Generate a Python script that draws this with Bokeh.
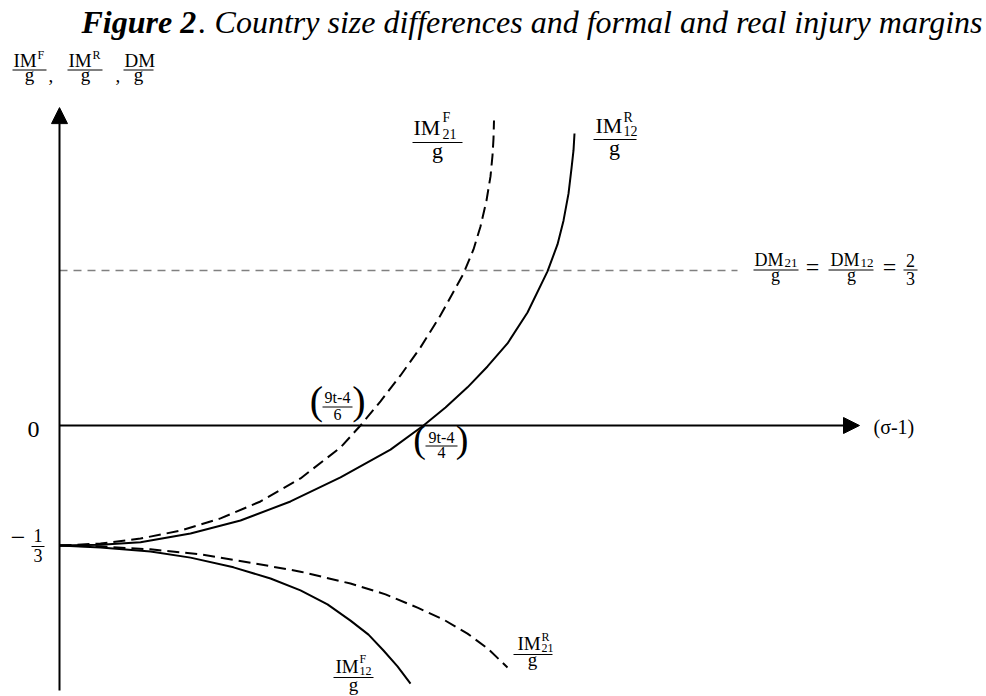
from bokeh.plotting import figure
from bokeh.models import Range1d, Arrow, NormalHead
from bokeh.core.properties import value
from bokeh.embed import file_html
from bokeh.resources import INLINE

W, H = 986, 696
FONT = "Liberation Serif"

# Injury-margin curves, in units of (sigma-1) along x and of g along y.
# All four start at -1/3 when (sigma-1) = 0.
im21_f_x = [0, 0.41, 0.81, 1.21, 1.61, 2.01, 2.41, 2.81, 3.01, 3.21, 3.41,
            3.61, 3.81, 4.04, 4.14, 4.21, 4.27, 4.31, 4.33, 4.34, 4.345]
im21_f_y = [-1 / 3, -0.328, -0.314, -0.292, -0.258, -0.211, -0.147, -0.061, 0.0,
            0.067, 0.139, 0.217, 0.306, 0.422, 0.489, 0.553, 0.625, 0.692,
            0.750, 0.797, 0.847]

im12_r_x = [0, 0.41, 0.81, 1.31, 1.81, 2.31, 2.81, 3.31, 3.64, 3.86, 4.08,
            4.28, 4.48, 4.68, 4.88, 4.98, 5.04, 5.09, 5.12, 5.14, 5.15]
im12_r_y = [-1 / 3, -0.331, -0.324, -0.300, -0.264, -0.211, -0.144, -0.067, 0.0,
            0.050, 0.106, 0.164, 0.228, 0.314, 0.428, 0.503, 0.569, 0.644,
            0.714, 0.764, 0.811]

im21_r_x = [0, 0.41, 0.91, 1.41, 1.91, 2.41, 2.91, 3.26, 3.58, 3.84, 4.08,
            4.28, 4.48]
im21_r_y = [-1 / 3, -0.336, -0.344, -0.358, -0.381, -0.406, -0.439, -0.469,
            -0.506, -0.539, -0.578, -0.619, -0.672]

im12_f_x = [0, 0.41, 0.91, 1.31, 1.74, 2.11, 2.41, 2.68, 2.91, 3.09, 3.24,
            3.38, 3.51]
im12_f_y = [-1 / 3, -0.339, -0.350, -0.367, -0.394, -0.425, -0.458, -0.497,
            -0.542, -0.581, -0.625, -0.669, -0.717]

# Domestic margin level (DM21/g = DM12/g) and the extent of its guide line
dm_level = 2 / 3
dm_x = [0, 6.78]

# Axis extents
x_axis_end = 8.0
y_axis_bottom = -0.736
y_axis_top = 0.883

p = figure(width=W, height=H, output_backend="svg", toolbar_location=None,
           x_range=Range1d(-0.59, 9.27), y_range=Range1d(-0.75278, 1.18056),
           x_axis_type=None, y_axis_type=None, min_border=0,
           outline_line_color=None, background_fill_color="white",
           border_fill_color="white")
p.grid.visible = False

# "page" ranges place the typeset labels; "dm" is the schematic (not to
# scale) vertical scale used for the DM level line.
p.extra_x_ranges = {"page": Range1d(0, W)}
p.extra_y_ranges = {"page": Range1d(H, 0), "dm": Range1d(-1.1656, 1.828)}

# Axes with arrow heads
p.add_layout(Arrow(end=NormalHead(size=16, fill_color="black", line_color="black"),
                   x_start=0, y_start=y_axis_bottom, x_end=0, y_end=y_axis_top,
                   line_width=2, line_color="black"))
p.add_layout(Arrow(end=NormalHead(size=16, fill_color="black", line_color="black"),
                   x_start=0, y_start=0, x_end=x_axis_end, y_end=0,
                   line_width=2, line_color="black"))

# DM level
p.line(dm_x, [dm_level, dm_level], y_range_name="dm", line_color="#808080",
       line_width=1.5, line_dash="8 6")

# Curves: formal margins dashed for 21 / solid for 12, real margins the reverse
p.line(im21_f_x, im21_f_y, line_color="black", line_width=2, line_dash="12 6",
       line_join="round")
p.line(im12_r_x, im12_r_y, line_color="black", line_width=2, line_join="round")
p.line(im21_r_x, im21_r_y, line_color="black", line_width=2, line_dash="12 6",
       line_join="round")
p.line(im12_f_x, im12_f_y, line_color="black", line_width=2, line_join="round")

# The text glyph's box sits a little below the requested alphabetic
# baseline; this lifts it back (as a fraction of the font size).
BASELINE_LIFT = 0.375


def put(x, y, s, size, align="left", style="normal"):
    p.text(x=[x], y=[y - BASELINE_LIFT * size], text=[s],
           x_range_name="page", y_range_name="page",
           text_font=value(FONT), text_font_size=value(f"{size}px"),
           text_font_style=value(style), text_align=value(align),
           text_baseline=value("alphabetic"), text_color="black")


def bar(x0, x1, y):
    p.segment(x0=[x0], y0=[y], x1=[x1], y1=[y], x_range_name="page",
              y_range_name="page", line_color="black", line_width=1)


# Title
put(81, 33, "Figure 2", 32, "left", "bold italic")
put(982, 33, ". Country size differences and formal and real injury margins",
    32, "right", "italic")

# Vertical axis caption: IM^F/g, IM^R/g, DM/g
put(13, 67, "IM", 19); put(37, 59, "F", 12); bar(12, 46, 69.5)
put(29, 81, "g", 19, "center"); put(48, 82, ",", 19)
put(68, 67, "IM", 19); put(92, 59, "R", 12); bar(67, 102, 69.5)
put(85, 81, "g", 19, "center"); put(115, 82, ",", 19)
put(124, 67, "DM", 19); bar(123, 153, 69.5)
put(138, 81, "g", 19, "center")

# Vertical axis values
put(33, 438, "0", 24, "center")
put(17.5, 546.5, "\u2212", 26, "center")
put(37.5, 542, "1", 18, "center"); bar(31, 44, 546)
put(37.5, 562, "3", 18, "center")

# Horizontal axis caption
put(873, 434, "(\u03c3-1)", 20)

# Curve labels
put(413, 135, "IM", 22); put(442, 122, "F", 14); put(442, 139, "21", 14)
bar(412, 462, 142); put(437, 158, "g", 22, "center")

put(595, 133, "IM", 22); put(623, 122, "R", 14); put(623, 136, "12", 14)
bar(593, 636, 139); put(614, 155, "g", 22, "center")

put(335, 673, "IM", 19); put(359, 663, "F", 12); put(359, 675, "12", 12)
bar(333, 373, 677); put(353, 691, "g", 19, "center")

put(517, 650, "IM", 19); put(541, 641, "R", 12); put(541, 652, "21", 12)
bar(513, 552, 654); put(532, 666, "g", 19, "center")

# DM label: DM21/g = DM12/g = 2/3
put(754, 266.5, "DM", 18); put(784, 267, "21", 13); bar(753, 798, 269.5)
put(775, 281, "g", 18, "center")
put(812, 275, "=", 24, "center")
put(830, 266.5, "DM", 18); put(860, 267, "12", 13); bar(828, 873, 269.5)
put(851, 281, "g", 18, "center")
put(889, 275, "=", 24, "center")
put(910, 267, "2", 18, "center"); bar(903, 917, 269.5)
put(910, 285, "3", 18, "center")

# Zero crossings
put(316, 415, "(", 40, "center"); put(337, 403, "9t-4", 16, "center")
bar(322, 352, 406.5); put(337, 420, "6", 16, "center")
put(358.5, 415, ")", 40, "center")

put(419, 453, "(", 38, "center"); put(441, 443, "9t-4", 16, "center")
bar(425, 457, 445.5); put(441, 458, "4", 16, "center")
put(461.5, 453, ")", 38, "center")

open("out.html", "w").write(file_html(p, INLINE))
